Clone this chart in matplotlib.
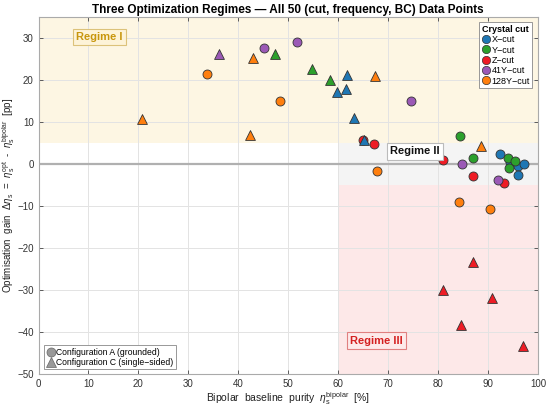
import matplotlib
matplotlib.use("Agg")
import matplotlib.pyplot as plt
from matplotlib.lines import Line2D
from matplotlib.patches import Rectangle

plt.rcParams['font.family'] = ['Liberation Sans', 'DejaVu Sans']
plt.rcParams['mathtext.fontset'] = 'custom'
plt.rcParams['mathtext.it'] = 'Liberation Sans:italic'
plt.rcParams['mathtext.rm'] = 'Liberation Sans'

cuts = ["X-cut", "Y-cut", "Z-cut", "41Y-cut", "128Y-cut"]
cut_colors = ["#1f77b4", "#2ca02c", "#ee1c25", "#9b59b6", "#ff7f0e"]

# Configuration A (grounded) -> circles ; Configuration C (single-sided) -> triangles
# X-cut
xA_x = [92.4, 94.4, 96.1, 97.3, 96.0]
xA_y = [2.4, 0.5, -0.5, 0.1, -2.7]
xC_x = [61.8, 59.8, 61.6, 63.1, 65.2]
xC_y = [21.1, 17.1, 17.8, 10.9, 5.8]
# Y-cut
yA_x = [84.5, 87.0, 94.1, 95.5, 94.3]
yA_y = [6.7, 1.4, 1.4, 0.6, -0.9]
yC_x = [47.3, 54.8, 58.4]
yC_y = [26.2, 22.5, 20.0]
# Z-cut
zA_x = [64.9, 67.2, 81.0, 87.0, 93.2]
zA_y = [5.7, 4.7, 0.9, -2.8, -4.4]
zC_x = [87.1, 81.0, 90.9, 84.6, 97.1]
zC_y = [-23.2, -30.0, -31.8, -38.2, -43.2]
# 41Y-cut
pA_x = [45.1, 51.8, 74.6, 84.8, 92.0]
pA_y = [27.6, 29.0, 14.9, -0.1, -3.9]
pC_x = [36.1]
pC_y = [26.2]
# 128Y-cut
oA_x = [33.7, 48.3, 67.8, 84.3, 90.5]
oA_y = [21.4, 15.0, -1.6, -9.0, -10.8]
oC_x = [20.8, 42.9, 42.4, 67.4, 88.7]
oC_y = [10.8, 25.2, 7.0, 21.0, 4.3]

A_x = [xA_x, yA_x, zA_x, pA_x, oA_x]
A_y = [xA_y, yA_y, zA_y, pA_y, oA_y]
C_x = [xC_x, yC_x, zC_x, pC_x, oC_x]
C_y = [xC_y, yC_y, zC_y, pC_y, oC_y]

fig = plt.figure(figsize=(5.5, 4.07), dpi=100)
ax = fig.add_axes([0.070, 0.080, 0.908, 0.879])
ax.set_xlim(0, 100)
ax.set_ylim(-50, 35)

# regime shading
ax.add_patch(Rectangle((0, 5), 100, 30, facecolor="#fdf6e3", edgecolor="none", zorder=0))
ax.add_patch(Rectangle((60, -5), 40, 10, facecolor="#f4f4f4", edgecolor="none", zorder=0))
ax.add_patch(Rectangle((60, -50), 40, 45, facecolor="#fde8e8", edgecolor="none", zorder=0))

ax.grid(True, color="#e3e3e3", linewidth=0.7, zorder=0.5)
ax.set_axisbelow(True)
ax.axhline(0, color="#b0b0b0", linewidth=1.6, zorder=1)

for i in range(len(cuts)):
    ax.scatter(A_x[i], A_y[i], s=42, marker="o", color=cut_colors[i],
               edgecolor="#333333", linewidth=0.6, zorder=3)
    ax.scatter(C_x[i], C_y[i], s=50, marker="^", color=cut_colors[i],
               edgecolor="#333333", linewidth=0.6, zorder=4)

ax.text(12.2, 30.2, "Regime I", color="#c8960c", fontsize=8, fontweight="bold",
        ha="center", va="center", zorder=5,
        bbox=dict(boxstyle="square,pad=0.3", facecolor="#fdf3d8", edgecolor="#dcc27a", linewidth=0.8))
ax.text(75.4, 3.0, "Regime II", color="#111111", fontsize=8, fontweight="bold",
        ha="center", va="center", zorder=5,
        bbox=dict(boxstyle="square,pad=0.3", facecolor="white", edgecolor="#bbbbbb", linewidth=0.8))
ax.text(67.7, -42.0, "Regime III", color="#d42020", fontsize=8, fontweight="bold",
        ha="center", va="center", zorder=5,
        bbox=dict(boxstyle="square,pad=0.3", facecolor="#fdeaea", edgecolor="#e08080", linewidth=0.8))

ax.set_xticks(range(0, 101, 10))
ax.set_yticks(range(-50, 31, 10))
ax.tick_params(direction="in", top=True, right=True, labelsize=7, colors="#444444",
               length=3, width=0.6, labelcolor="#333333")
for sp in ax.spines.values():
    sp.set_color("#aaaaaa")
    sp.set_linewidth(0.8)

ax.set_title("Three Optimization Regimes — All 50 (cut, frequency, BC) Data Points",
             fontsize=8.5, fontweight="bold", pad=3)
ax.set_xlabel(r"Bipolar  baseline  purity  $\eta_\mathrm{s}^\mathrm{bipolar}$  [%]",
              fontsize=7.5, color="#222222", labelpad=1)
ax.set_ylabel(r"Optimisation  gain  $\Delta\eta_\mathrm{s}$  =  $\eta_\mathrm{s}^\mathrm{opt}$  -  $\eta_\mathrm{s}^\mathrm{bipolar}$  [pp]",
              fontsize=7.0, color="#222222")
ax.yaxis.set_label_coords(-0.043, 0.5)

cut_handles = [Line2D([], [], marker="o", linestyle="none", markersize=6,
                      markerfacecolor=c, markeredgecolor="#333333", markeredgewidth=0.5)
               for c in cut_colors]
leg1 = ax.legend(cut_handles, [c.replace("-", "\u2212") for c in cuts],
                 title="Crystal cut", loc="upper right", fontsize=6.5,
                 title_fontproperties={"weight": "bold", "size": 6.5},
                 handletextpad=0.1, handlelength=1.0, borderpad=0.3, labelspacing=0.15,
                 fancybox=False, framealpha=1, edgecolor="#888888",
                 borderaxespad=0.6)
leg1.get_frame().set_linewidth(0.6)
ax.add_artist(leg1)

cfg_handles = [Line2D([], [], marker="o", linestyle="none", markersize=6.5,
                      markerfacecolor="#999999", markeredgecolor="#666666", markeredgewidth=0.5),
               Line2D([], [], marker="^", linestyle="none", markersize=6.5,
                      markerfacecolor="#999999", markeredgecolor="#666666", markeredgewidth=0.5)]
leg2 = ax.legend(cfg_handles, ["Configuration A (grounded)", "Configuration C (single\u2212sided)"],
                 loc="lower left", fontsize=6.2, handletextpad=0.1, handlelength=1.0,
                 borderpad=0.3, labelspacing=0.1, fancybox=False, framealpha=1,
                 edgecolor="#888888", borderaxespad=0.6)
leg2.get_frame().set_linewidth(0.6)

fig.savefig("out.png", dpi=100)
